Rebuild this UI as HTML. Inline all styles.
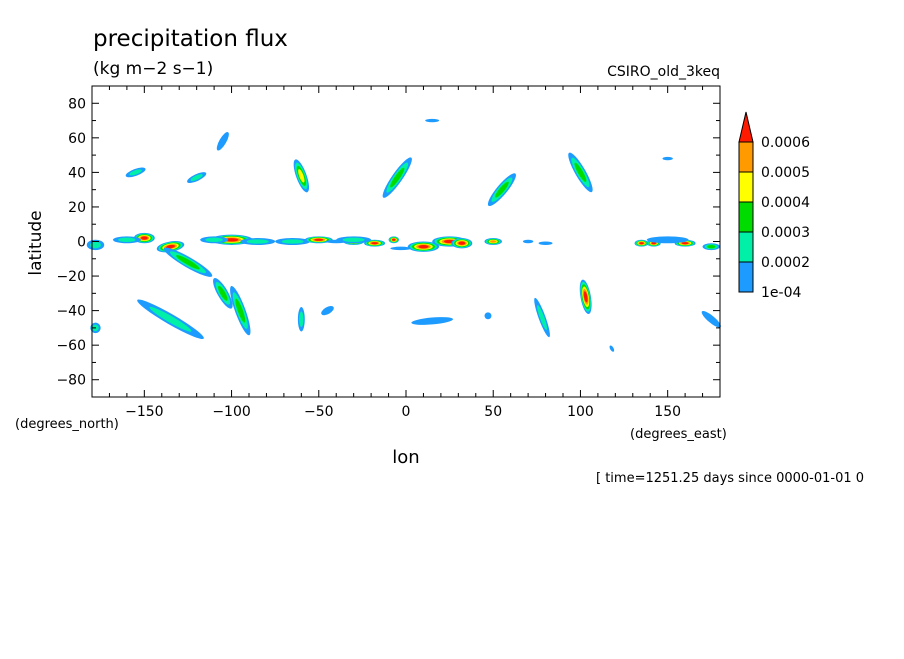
<!DOCTYPE html>
<html><head><meta charset="utf-8">
<style>
body{margin:0;background:#fff;}
svg text{font-family:"DejaVu Sans","Liberation Sans",sans-serif;fill:#000;}
</style></head>
<body>
<svg id="chart" width="904" height="654" xmlns="http://www.w3.org/2000/svg">
<text x="93" y="46" font-size="23">precipitation flux</text>
<text x="93" y="74" font-size="17">(kg m−2 s−1)</text>
<text x="720" y="76" font-size="14" text-anchor="end">CSIRO_old_3keq</text>
<text x="41" y="243" font-size="17" text-anchor="middle" transform="rotate(-90 41 243)">latitude</text>
<text x="406" y="463" font-size="18" text-anchor="middle">lon</text>
<text x="15" y="428" font-size="13">(degrees_north)</text>
<text x="630" y="438" font-size="13">(degrees_east)</text>
<text x="596" y="482" font-size="13">[ time=1251.25 days since 0000-01-01 0</text>
<g id="blobs"></g>
<g id="axes"></g>
<g id="legend"></g>
</svg>
<script>
const xTicks=[-150,-100,-50,0,50,100,150];
const yTicks=[80,60,40,20,0,-20,-40,-60,-80];
const levelLabels=["1e-04","0.0002","0.0003","0.0004","0.0005","0.0006"];
const levelColors=["#1e9bff","#00f0a8","#00dc00","#ffff00","#ff9a00","#ff1a00"];
// blobs: lon, lat, half-length(deg), half-width(deg), rotation, max level
const blobLon=[-178,-150,-135,-100,-85,-65,-50,-30,-18,-7,10,25,32,50,80,135,142,160,175,-160,-40,-3,70,150,-125,-105,-155,-120,-105,-60,-5,55,100,15,150,-135,-95,-60,-45,15,47,78,103,118,175,-178,-110,-30];
const blobLat=[-2,2,-3,1,0,0,1,0,-1,1,-3,0,-1,0,-1,-1,-1,-1,-3,1,0,-4,0,1,-12,-30,40,37,58,38,37,30,40,70,48,-45,-40,-45,-40,-46,-43,-44,-32,-62,-45,-50,1,1];
const blobRx=[5,6,8,12,10,10,8,6,6,3,9,10,6,5,4,4,4,6,5,8,6,6,3,12,16,10,6,6,6,10,14,12,13,4,3,22,15,7,4,12,2,12,10,2,7,3,8,10];
const blobRy=[3,3,3,3,2,2,2,2,2,2,3,3,3,2,1,2,2,2,2,2,1,1,1,2,3,3,2,2,2,3,3,3,3,1,1,3,3,2,2,2,2,2,3,1,2,3,2,2];
const blobRot=[0,0,-10,0,0,0,0,0,0,0,0,0,0,0,0,0,0,0,0,0,0,0,0,0,30,60,-20,-25,-60,70,-55,-50,60,0,0,30,70,90,-30,-5,0,70,80,60,40,80,0,0];
const blobLev=[2,6,6,6,2,2,6,6,6,6,6,6,6,5,1,6,6,6,3,2,1,1,1,1,3,3,2,2,1,4,3,3,3,1,1,2,3,2,1,1,1,2,6,1,1,2,2,2];

const X0=92,X1=720,Y0=86,Y1=397;
const sx=v=>X0+(v+180)*(X1-X0)/360;
const sy=v=>Y0+(90-v)*(Y1-Y0)/180;
const pxPerX=(X1-X0)/360,pxPerY=(Y1-Y0)/180;
const NS="http://www.w3.org/2000/svg";
const g=document.getElementById('blobs');
for(let i=0;i<blobLon.length;i++){
  const cx=sx(blobLon[i]),cy=sy(blobLat[i]);
  for(let l=0;l<blobLev[i];l++){
    const f=1-l/(blobLev[i]+0.3)*0.85;
    const e=document.createElementNS(NS,'ellipse');
    
    
    e.setAttribute('cx',cx);e.setAttribute('cy',cy);
    e.setAttribute('rx',Math.max(1,blobRx[i]*pxPerX*f));
    e.setAttribute('ry',Math.max(1,blobRy[i]*pxPerY*f));
    e.setAttribute('transform','rotate('+blobRot[i]+' '+cx+' '+cy+')');
    e.setAttribute('fill',levelColors[l]);
    g.appendChild(e);
  }
}
const ax=document.getElementById('axes');
function line(x1,y1,x2,y2,name){
  const l=document.createElementNS(NS,'line');
  
  
  l.setAttribute('x1',x1);l.setAttribute('y1',y1);l.setAttribute('x2',x2);l.setAttribute('y2',y2);
  l.setAttribute('stroke','#000');l.setAttribute('stroke-width','1');
  ax.appendChild(l);
}
function text(x,y,s,anchor,name){
  const t=document.createElementNS(NS,'text');
  
  
  t.setAttribute('x',x);t.setAttribute('y',y);t.setAttribute('font-size','14');
  t.setAttribute('text-anchor',anchor);t.textContent=s;ax.appendChild(t);
}
const frame=document.createElementNS(NS,'rect');


frame.setAttribute('x',X0);frame.setAttribute('y',Y0);frame.setAttribute('width',X1-X0);frame.setAttribute('height',Y1-Y0);
frame.setAttribute('fill','none');frame.setAttribute('stroke','#000');
ax.appendChild(frame);
for(let v=-180;v<=180;v+=10){
  const len=(v%50===0)?7:4;
  line(sx(v),Y1,sx(v),Y1-len,'x-tick');line(sx(v),Y0,sx(v),Y0+len,'x-tick');
}
for(let v=-90;v<=90;v+=10){
  const len=(v%20===0)?7:4;
  line(X0,sy(v),X0+len,sy(v),'y-tick');line(X1,sy(v),X1-len,sy(v),'y-tick');
}
xTicks.forEach(v=>text(sx(v),Y1+19,String(v).replace('-','−'),'middle','x-tick-label'));
yTicks.forEach(v=>text(X0-6,sy(v)+5,String(v).replace('-','−'),'end','y-tick-label'));
const lg=document.getElementById('legend');
const LX=739,LW=14,LB=292,LH=30;
for(let i=0;i<5;i++){
  const r=document.createElementNS(NS,'rect');
  
  
  r.setAttribute('x',LX);r.setAttribute('y',LB-(i+1)*LH);r.setAttribute('width',LW);r.setAttribute('height',LH);
  r.setAttribute('fill',levelColors[i]);r.setAttribute('stroke','#000');
  lg.appendChild(r);
}
const tri=document.createElementNS(NS,'polygon');


tri.setAttribute('points',LX+','+(LB-5*LH)+' '+(LX+LW)+','+(LB-5*LH)+' '+(LX+LW/2)+','+(LB-5*LH-30));
tri.setAttribute('fill',levelColors[5]);tri.setAttribute('stroke','#000');
lg.appendChild(tri);
levelLabels.forEach((s,i)=>{
  const t=document.createElementNS(NS,'text');
  
  
  t.setAttribute('x',761);t.setAttribute('y',LB-i*LH+5);t.setAttribute('font-size','14');
  t.textContent=s;lg.appendChild(t);
});
</script>
</body></html>
